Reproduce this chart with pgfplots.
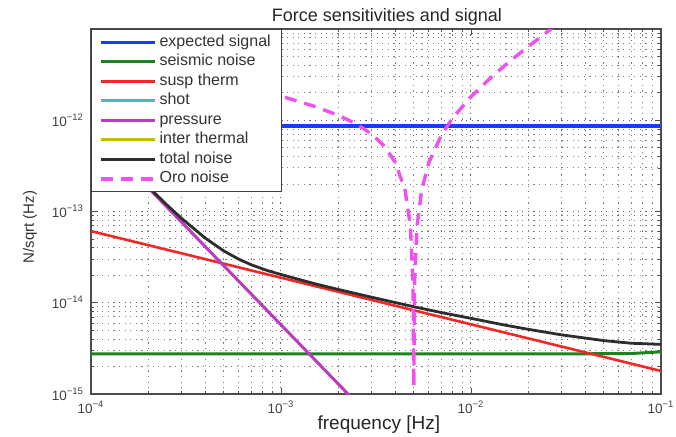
\documentclass[border=0pt]{standalone}
\usepackage{fontspec}
\setmainfont{Liberation Sans}
\usepackage{pgfplots}
\pgfplotsset{compat=1.18}
\definecolor{csig}{RGB}{25,60,245}
\definecolor{cseis}{RGB}{30,130,30}
\definecolor{csusp}{RGB}{240,40,40}
\definecolor{cshot}{RGB}{64,191,191}
\definecolor{cpress}{RGB}{185,60,190}
\definecolor{cinter}{RGB}{191,191,0}
\definecolor{ctot}{RGB}{45,45,45}
\definecolor{coro}{RGB}{240,80,240}
\begin{document}
\begin{tikzpicture}
\useasboundingbox (-45.5pt,-21pt) rectangle (292.5pt,197pt);
\begin{axis}[
  scale only axis,
  width=285pt, height=182.5pt,
  xmode=log, ymode=log,
  xmin=1e-4, xmax=1e-1, ymin=1e-15, ymax=1e-11,
  xtick={1e-4,1e-3,1e-2,1e-1},
  xticklabels={10\textsuperscript{−4},10\textsuperscript{−3},10\textsuperscript{−2},10\textsuperscript{−1}},
  ytick={1e-15,1e-14,1e-13,1e-12},
  yticklabels={10\textsuperscript{−15},10\textsuperscript{−14},10\textsuperscript{−13},10\textsuperscript{−12}},
  minor xtick={2e-4,3e-4,4e-4,5e-4,6e-4,7e-4,8e-4,9e-4,2e-3,3e-3,4e-3,5e-3,6e-3,7e-3,8e-3,9e-3,2e-2,3e-2,4e-2,5e-2,6e-2,7e-2,8e-2,9e-2},
  minor ytick={2e-15,3e-15,4e-15,5e-15,6e-15,7e-15,8e-15,9e-15,2e-14,3e-14,4e-14,5e-14,6e-14,7e-14,8e-14,9e-14,2e-13,3e-13,4e-13,5e-13,6e-13,7e-13,8e-13,9e-13,2e-12,3e-12,4e-12,5e-12,6e-12,7e-12,8e-12,9e-12},
  grid=both,
  major grid style={black!60, line width=0.5pt, dash pattern=on 0.6pt off 2.2pt},
  minor grid style={black!50, line width=0.5pt, dash pattern=on 0.6pt off 2.2pt},
  tick align=inside, tick pos=both,
  major tick length=3pt, minor tick length=1.6pt,
  every tick/.style={black!70, line width=0.4pt},
  axis line style={black!70, line width=0.7pt},
  tick label style={font=\fontsize{6.75}{8}\selectfont, text=black!75},
  title={Force sensitivities and signal},
  title style={font=\fontsize{9}{10}\selectfont, text=black!85, at={(axis description cs:0.519,1)}, anchor=base, yshift=-2.25pt},
  xlabel={frequency [Hz]},
  xlabel style={font=\fontsize{9.5}{11}\selectfont, text=black!85, at={(axis description cs:0.505,-0.085)}, anchor=center},
  ylabel={N/sqrt (Hz)},
  ylabel style={font=\fontsize{7.5}{9}\selectfont, text=black!80, at={(axis description cs:-0.107,0.457)}, anchor=center},
  legend cell align=left,
  legend image code/.code={\draw[#1] (0pt,0pt) -- (27pt,0pt);},
  legend style={at={(axis description cs:0,1)}, anchor=north west,
    draw=black!75, line width=0.7pt, fill=white,
    inner xsep=4pt, inner ysep=1.5pt,
    font=\fontsize{8}{9.75}\selectfont, text=black!80,
    nodes={text height=6pt, text depth=2pt, inner ysep=0.875pt, inner xsep=1.25pt}},
]
% expected signal
\addplot[csig, line width=1.7pt] coordinates {(1e-4,8.65e-13) (1e-1,8.65e-13)};
\addlegendentry{expected signal}
% seismic noise
\addplot[cseis, line width=1.5pt] coordinates {(1e-4,2.75e-15) (3e-2,2.75e-15) (7e-2,2.78e-15) (1e-1,2.9e-15)};
\addlegendentry{seismic noise}
% susp therm
\addplot[csusp, line width=1.3pt] coordinates {(1e-4,6.1e-14) (1e-1,1.79e-15)};
\addlegendentry{susp therm}
\addlegendimage{cshot, line width=1.5pt}
\addlegendentry{shot}
% pressure
\addplot[cpress, line width=1.5pt] coordinates {(1e-4,8.1e-13) (2.5e-3,8.0e-16)};
\addlegendentry{pressure}
\addlegendimage{cinter, line width=1.5pt}
\addlegendentry{inter thermal}
% total noise
\addplot[ctot, line width=1.4pt] coordinates {
 (1.2e-4,5.5e-13) (1.5e-4,3.43e-13) (2e-4,1.87e-13) (2.5e-4,1.19e-13) (3e-4,8.4e-14)
 (4e-4,5.1e-14) (5e-4,3.7e-14) (6e-4,3.0e-14) (7e-4,2.6e-14) (8.5e-4,2.25e-14)
 (1e-3,2.04e-14) (1.5e-3,1.62e-14) (2e-3,1.40e-14) (3e-3,1.15e-14) (5e-3,9.05e-15)
 (7e-3,7.8e-15) (1e-2,6.75e-15) (1.5e-2,5.7e-15) (2e-2,5.12e-15) (3e-2,4.45e-15)
 (5e-2,3.85e-15) (7e-2,3.6e-15) (1e-1,3.5e-15)};
\addlegendentry{total noise}
% Oro noise
\addplot[coro, line width=1.7pt, dash pattern=on 6pt off 4pt] coordinates {
 (1e-4,6.05e-12) (2e-4,4.27e-12) (5e-4,2.68e-12) (1e-3,1.84e-12) (1.5e-3,1.42e-12)
 (2e-3,1.136e-12) (2.5e-3,9.07e-13) (3e-3,7.06e-13) (3.5e-3,5.21e-13) (4e-3,3.44e-13)
 (4.5e-3,1.71e-13) (4.8e-3,6.9e-14) (4.95e-3,1.7e-14) (5e-3,1.2e-15) (5.05e-3,1.7e-14)
 (5.2e-3,6.9e-14) (5.5e-3,1.71e-13) (6e-3,3.44e-13) (7e-3,6.94e-13) (8e-3,1.055e-12)
 (1e-2,1.81e-12) (1.3e-2,3.06e-12) (1.6e-2,4.42e-12) (2e-2,6.42e-12) (2.5e-2,9.18e-12) (3e-2,1.22e-11)};
\addlegendentry{Oro noise}
\end{axis}
\end{tikzpicture}
\end{document}
